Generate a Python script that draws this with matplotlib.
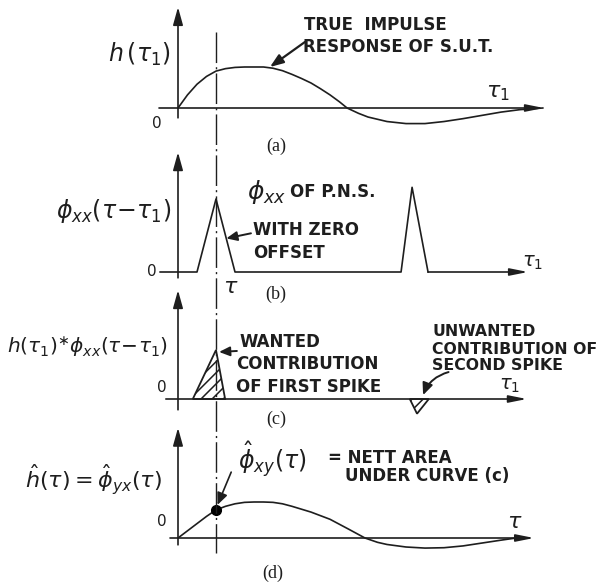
import numpy as np
import matplotlib.pyplot as plt
from matplotlib.patches import Polygon
from matplotlib.lines import Line2D

W, H = 605, 587          # figure size in pixels
X0, XPX = 178, 38.0      # pixel column of tau1 = 0, pixels per tau1 unit
TAU = 1.0
INK = '#1e1e1e'

# (a) true impulse response of the system under test
tau_a = [0, 0.25, 0.5, 0.75, 1.0, 1.25, 1.5, 1.75, 2.0, 2.25, 2.5, 2.75,
         3.0, 3.25, 3.5, 3.75, 4.0, 4.25, 4.45, 4.75, 5.0, 5.5, 6.0, 6.5,
         7.0, 7.5, 8.0, 8.5, 9.0, 9.6]
h_a = [0, 0.32, 0.58, 0.77, 0.90, 0.96, 0.99, 1.0, 1.0, 1.0, 0.97, 0.91,
       0.82, 0.72, 0.61, 0.47, 0.32, 0.15, 0.0, -0.13, -0.22, -0.33, -0.38, -0.38,
       -0.33, -0.26, -0.18, -0.10, -0.04, 0.0]

# (b) autocorrelation of the P.N.S. shifted by tau (two spikes)
tau_b = [-0.47, 0.5, 1.0, 1.5, 5.87, 6.16, 6.58, 9.21]
phi_b = [0, 0, 1.0, 0, 0, 1.16, 0, 0]

# (c) product h(tau1) * phi_xx(tau - tau1) under each spike
tau_wanted = [0.39, 1.0, 1.24]
prod_wanted = [0, 1.0, 0]
tau_unwanted = [6.1, 6.29, 6.6]
prod_unwanted = [0, -0.3, 0]

# (d) estimated impulse response
tau_d = [0, 0.25, 0.5, 0.75, 1.0, 1.25, 1.5, 1.75, 2.0, 2.25, 2.5, 2.75,
         3.0, 3.5, 4.0, 4.5, 4.92, 5.25, 5.5, 6.0, 6.5, 7.0, 7.5, 8.0,
         8.5, 8.9]
h_d = [0, 0.20, 0.40, 0.60, 0.78, 0.88, 0.95, 0.99, 1.0, 1.0, 0.99, 0.95,
       0.88, 0.72, 0.52, 0.24, 0.0, -0.12, -0.18, -0.25, -0.28, -0.27, -0.22, -0.14,
       -0.06, 0.0]

plt.rcParams['hatch.linewidth'] = 1.1
plt.rcParams['mathtext.fontset'] = 'dejavusans'

fig = plt.figure(figsize=(W / 100, H / 100), dpi=100)
fig.patch.set_facecolor('white')


def panel(top, bottom, y0, ypx):
    ax = fig.add_axes([0, 1 - bottom / H, 1, (bottom - top) / H])
    ax.set_xlim(-X0 / XPX, (W - X0) / XPX)
    ax.set_ylim(-(bottom - y0) / ypx, (y0 - top) / ypx)
    ax.patch.set_alpha(0)
    ax.axis('off')
    return ax


def arrow(ax, start, end, scale=12, hl=0.9, hw=0.25, lw=1.2, rad=0.0):
    ax.annotate('', xy=end, xytext=start,
                arrowprops=dict(arrowstyle=f'-|>,head_length={hl},head_width={hw}',
                                color=INK, lw=lw, mutation_scale=scale,
                                shrinkA=0, shrinkB=0,
                                connectionstyle=f'arc3,rad={rad}'),
                annotation_clip=False)


def label(x, y, s, size=13, ha='left', va='center', **kw):
    fig.text(x / W, 1 - y / H, s, fontsize=size, ha=ha, va=va, color=INK, **kw)


caps = dict(family='DejaVu Sans', size=12, fontweight='bold')
caps_small = dict(family='DejaVu Sans', size=11.3, fontweight='bold')
serif = dict(family='Liberation Serif', size=13, ha='center')

# ---- (a)
ax_a = panel(0, 150, 108, 41)
arrow(ax_a, (0, -0.24), (0, 2.46))
arrow(ax_a, (-0.5, 0), (9.63, 0), hw=0.18)
ax_a.plot(tau_a, h_a, color=INK, lw=1.2, clip_on=False)
arrow(ax_a, (3.34, 1.61), (2.42, 1.0), scale=10, hl=0.8, hw=0.3, lw=1.6)
label(139, 54, r'$h\,(\tau_1)$', size=17, ha='center')
label(157, 123, '0', size=11, ha='center')
label(498, 93, r'$\tau_1$', size=16, ha='center')
label(304, 25, 'TRUE  IMPULSE', **caps)
label(303, 47, 'RESPONSE OF S.U.T.', **caps)
label(276, 146, '(a)', **serif)

# ---- (b)
ax_b = panel(150, 283, 272, 73)
arrow(ax_b, (0, -0.08), (0, 1.64))
ax_b.plot(tau_b[:-1], phi_b[:-1], color=INK, lw=1.2, clip_on=False)
arrow(ax_b, (tau_b[-2], phi_b[-2]), (tau_b[-1], phi_b[-1]), hw=0.18)
arrow(ax_b, (1.92, 0.53), (1.27, 0.46), scale=8, hl=0.8, hw=0.35, lw=1.4)
label(114, 211, r'$\phi_{xx}(\tau\!-\!\tau_1)$', size=17, ha='center')
label(152, 272, '0', size=11, ha='center')
label(533, 263, r'$\tau_1$', size=14, ha='center')
label(231, 287, r'$\tau$', size=16, ha='center')
label(247, 192, r'$\phi_{xx}$', size=18)
label(290, 192, 'OF P.N.S.', **caps)
label(253, 230, 'WITH ZERO', **caps)
label(253, 253, 'OFFSET', **caps)
label(276, 294, '(b)', **serif)

# ---- (c)
ax_c = panel(283, 420, 399, 49)
arrow(ax_c, (0, -0.22), (0, 2.22))
arrow(ax_c, (-0.32, 0), (9.18, 0), hw=0.18)
for xs, ys in [(tau_wanted, prod_wanted), (tau_unwanted, prod_unwanted)]:
    ax_c.add_patch(Polygon(np.column_stack([xs, ys]), closed=True, fill=False,
                           edgecolor=INK, lw=1.3, hatch='///', clip_on=False))
arrow(ax_c, (1.55, 0.98), (1.08, 0.96), scale=8, hl=0.8, hw=0.35, lw=1.4)
arrow(ax_c, (7.12, 0.55), (6.45, 0.08), scale=9, hl=0.8, hw=0.35, lw=1.4, rad=0.25)
label(88, 347, r'$h(\tau_1)^{\ast}\phi_{xx}(\tau\!-\!\tau_1)$', size=14.5, ha='center')
label(162, 387, '0', size=11, ha='center')
label(510, 386, r'$\tau_1$', size=14, ha='center')
label(239, 342, 'WANTED', **caps)
label(236, 364, 'CONTRIBUTION', **caps)
label(236, 387, 'OF FIRST SPIKE', **caps)
label(432, 331, 'UNWANTED', **caps_small)
label(432, 349, 'CONTRIBUTION OF', **caps_small)
label(432, 366, 'SECOND SPIKE', **caps_small)
label(276, 419, '(c)', **serif)

# ---- (d)
ax_d = panel(420, 587, 538, 36)
arrow(ax_d, (0, -0.19), (0, 3.06))
arrow(ax_d, (-0.21, 0), (9.37, 0), hw=0.18)
ax_d.plot(tau_d, h_d, color=INK, lw=1.2, clip_on=False)
i_tau = tau_d.index(TAU)
ax_d.plot(tau_d[i_tau], h_d[i_tau], 'o', color='black', ms=7, clip_on=False)
arrow(ax_d, (1.4, 1.83), (1.04, 0.92), scale=9, hl=0.8, hw=0.35, lw=1.2)
label(93, 480, r'$\hat{h}(\tau)=\hat{\phi}_{yx}(\tau)$', size=16, ha='center')
label(162, 522, '0', size=11, ha='center')
label(515, 522, r'$\tau$', size=16, ha='center')
label(238, 460, r'$\hat{\phi}_{xy}(\tau)$', size=17)
label(328, 458, '= NETT AREA', **caps)
label(345, 476, 'UNDER CURVE (c)', **caps)
label(273, 573, '(d)', **serif)

# lag tau marked through all four panels
xf = (X0 + XPX * TAU) / W
fig.add_artist(Line2D([xf, xf], [1 - 32 / H, 1 - 553 / H], color=INK, lw=1.0,
                      linestyle=(0, (22, 3, 1.5, 3))))

fig.savefig('out.png', dpi=100, facecolor='white')
